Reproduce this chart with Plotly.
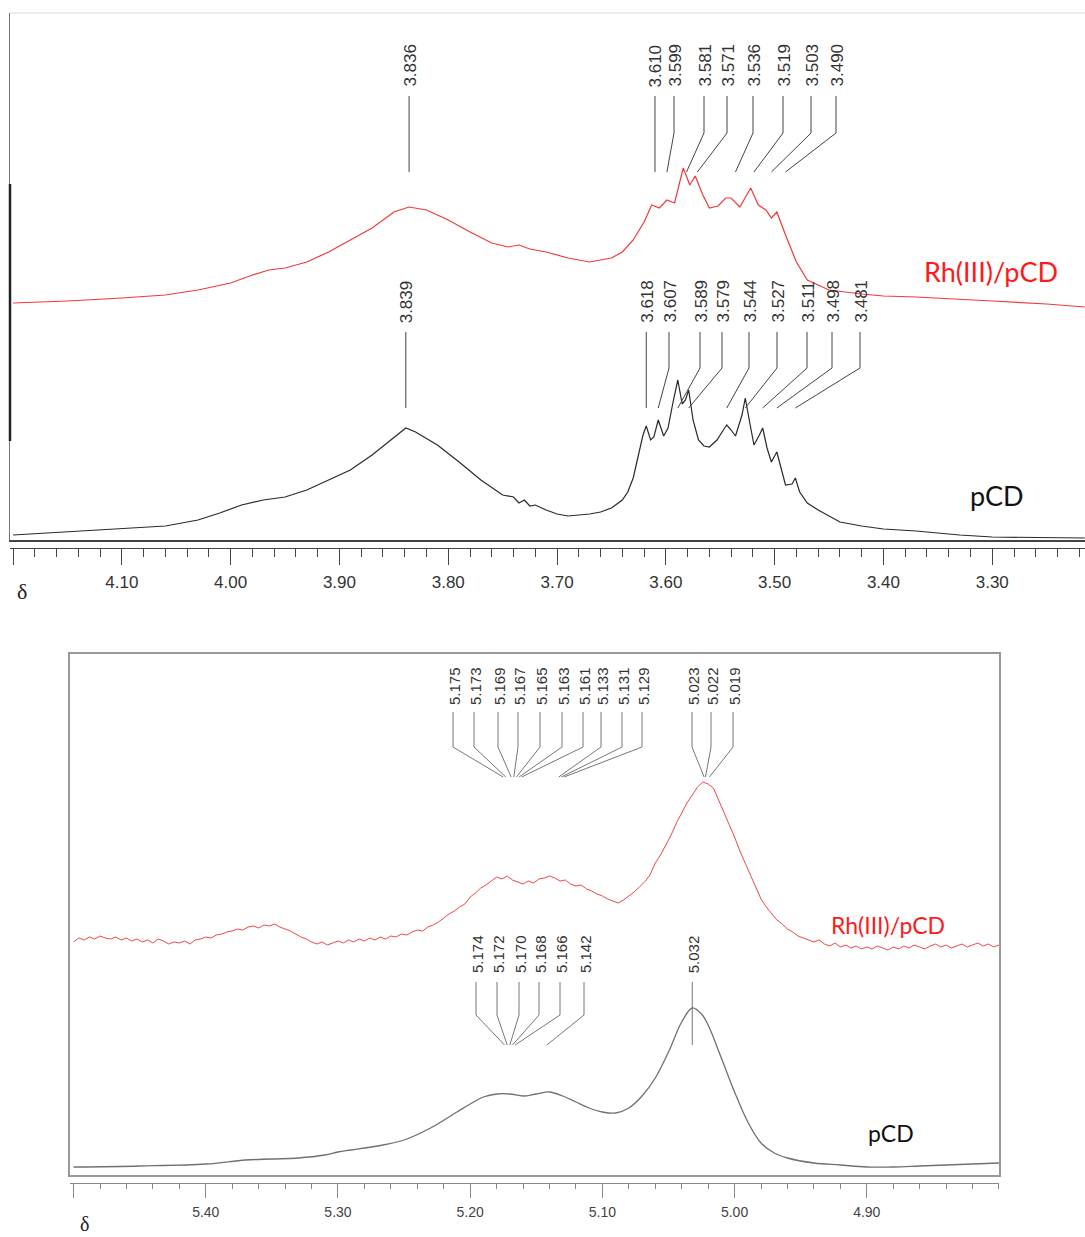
import plotly.graph_objects as go
import numpy as np

W, H = 1085, 1237

# ---------------- Top panel data (δ 3.2 – 4.2) ----------------
top_pcd_ppm = [4.200, 4.150, 4.100, 4.060, 4.030, 4.010, 3.990, 3.970, 3.950, 3.930,
               3.910, 3.890, 3.870, 3.850, 3.839, 3.830, 3.810, 3.790, 3.770, 3.750,
               3.740, 3.735, 3.730, 3.725, 3.720, 3.710, 3.700, 3.690, 3.680, 3.670,
               3.660, 3.650, 3.640, 3.635, 3.630, 3.625, 3.621, 3.618, 3.614, 3.611,
               3.607, 3.602, 3.598, 3.593, 3.589, 3.585, 3.582, 3.579, 3.575, 3.570,
               3.565, 3.560, 3.553, 3.546, 3.544, 3.540, 3.536, 3.530, 3.527, 3.523,
               3.519, 3.514, 3.511, 3.507, 3.503, 3.498, 3.494, 3.490, 3.484, 3.481,
               3.477, 3.470, 3.460, 3.440, 3.420, 3.400, 3.370, 3.350, 3.345, 3.330,
               3.300, 3.250, 3.215]
top_pcd_int = [5, 8, 11, 14, 20, 27, 35, 40, 43, 50,
               60, 70, 85, 102, 112, 108, 95, 78, 60, 45,
               43, 37, 40, 34, 35, 30, 26, 24, 25, 26,
               28, 32, 40, 48, 62, 85, 105, 114, 100, 103,
               120, 104, 112, 140, 160, 136, 140, 150, 120, 100,
               94, 93, 100, 112, 115, 110, 104, 125, 142, 118,
               95, 105, 112, 92, 78, 88, 70, 55, 56, 62,
               48, 37, 30, 18, 14, 11, 9, 7, 6, 5,
               3, 2, 2]

top_rh_ppm = [4.200, 4.150, 4.100, 4.060, 4.030, 4.000, 3.980, 3.965, 3.950, 3.930,
              3.910, 3.890, 3.870, 3.850, 3.836, 3.820, 3.800, 3.780, 3.760, 3.745,
              3.735, 3.725, 3.710, 3.690, 3.670, 3.650, 3.640, 3.630, 3.620, 3.613,
              3.606, 3.599, 3.592, 3.584, 3.578, 3.573, 3.566, 3.560, 3.552, 3.545,
              3.540, 3.532, 3.522, 3.515, 3.508, 3.503, 3.498, 3.490, 3.480, 3.470,
              3.450, 3.420, 3.400, 3.370, 3.350, 3.300, 3.250, 3.215]
top_rh_int = [237, 239, 242, 245, 250, 257, 265, 270, 272, 278,
              288, 300, 312, 328, 333, 330, 320, 308, 297, 293,
              295, 291, 288, 282, 278, 282, 288, 300, 318, 335,
              332, 340, 337, 372, 355, 364, 345, 332, 334, 342,
              342, 333, 352, 335, 330, 322, 328, 305, 278, 260,
              250, 246, 244, 243, 242, 239, 236, 233]

top_rh_labels = [3.836, 3.610, 3.599, 3.581, 3.571, 3.536, 3.519, 3.503, 3.490]
top_pcd_labels = [3.839, 3.618, 3.607, 3.589, 3.579, 3.544, 3.527, 3.511, 3.498, 3.481]
top_ticks = [4.20, 4.10, 4.00, 3.90, 3.80, 3.70, 3.60, 3.50, 3.40, 3.30]
top_ticktext = ["", "4.10", "4.00", "3.90", "3.80", "3.70", "3.60", "3.50", "3.40", "3.30"]

# ---------------- Bottom panel data (δ 4.8 – 5.5) ----------------
bot_pcd_ppm = [5.50, 5.45, 5.40, 5.37, 5.35, 5.33, 5.31, 5.30, 5.29, 5.27,
               5.25, 5.23, 5.21, 5.20, 5.19, 5.18, 5.17, 5.16, 5.15, 5.14,
               5.13, 5.12, 5.11, 5.10, 5.09, 5.08, 5.07, 5.06, 5.05, 5.04,
               5.032, 5.025, 5.02, 5.01, 5.00, 4.99, 4.98, 4.97, 4.96, 4.94,
               4.92, 4.90, 4.88, 4.86, 4.84, 4.82, 4.80]
bot_pcd_int = [8, 9, 11, 15, 16, 17, 20, 23, 25, 29,
               35, 47, 63, 71, 78, 81, 81, 79, 81, 83,
               79, 73, 67, 63, 62, 67, 79, 97, 123, 153,
               167, 161, 150, 117, 83, 53, 32, 22, 17, 12,
               10, 8, 8, 9, 10, 11, 12]

# Rh(III)/pCD spectrum sampled every 0.004 ppm from 5.500 down to 4.800
bot_rh_first, bot_rh_step = 5.500, 0.004
bot_rh_int = [233, 237, 235, 238, 236, 239, 237, 236, 238, 235,
              237, 234, 236, 233, 235, 232, 236, 234, 231, 233,
              232, 234, 231, 235, 236, 238, 237, 240, 241, 243,
              244, 246, 245, 248, 249, 247, 250, 249, 251, 248,
              246, 244, 241, 238, 236, 233, 231, 233, 230, 232,
              234, 232, 235, 233, 236, 234, 237, 235, 238, 236,
              239, 238, 241, 240, 243, 245, 244, 248, 250, 253,
              257, 261, 264, 268, 271, 278, 282, 287, 290, 294,
              298, 296, 299, 295, 293, 291, 294, 292, 296, 297,
              299, 297, 294, 295, 291, 289, 290, 286, 284, 281,
              279, 276, 274, 272, 275, 279, 283, 288, 293, 300,
              312, 320, 330, 340, 352, 362, 372, 380, 388, 393,
              391, 387, 375, 362, 350, 338, 324, 312, 300, 289,
              276, 268, 262, 255, 251, 246, 243, 239, 237, 235,
              233, 235, 231, 229, 232, 228, 230, 227, 229, 226,
              228, 226, 229, 227, 225, 228, 226, 229, 227, 230,
              228, 226, 229, 231, 228, 230, 227, 229, 231, 228,
              230, 232, 229, 231, 228, 230]
bot_rh_ppm = [bot_rh_first - bot_rh_step * i for i in range(len(bot_rh_int))]

bot_rh_labels = [5.175, 5.173, 5.169, 5.167, 5.165, 5.163, 5.161, 5.133, 5.131, 5.129,
                 5.023, 5.022, 5.019]
bot_pcd_labels = [5.174, 5.172, 5.170, 5.168, 5.166, 5.142, 5.032]
bot_ticks = [5.50, 5.40, 5.30, 5.20, 5.10, 5.00, 4.90]
bot_ticktext = ["", "5.40", "5.30", "5.20", "5.10", "5.00", "4.90"]

# ---------------- geometry (pixels) ----------------
T_X0, T_PPM0, T_SCALE = 10, 4.2028, 1088.0      # top: px at left, ppm at left, px per ppm
T_TOP, T_BOT = 13, 540
B_X0, B_X1, B_PPM0, B_SCALE = 70, 999, 5.5027, 1322.0
B_TOP, B_BOT = 654, 1175

def t_px2ppm(px):
    return T_PPM0 - (px - T_X0) / T_SCALE

def b_px2ppm(px):
    return B_PPM0 - (px - B_X0) / B_SCALE

def ypap(py):
    return 1 - py / H

t_range = [T_PPM0, T_PPM0 - (W - T_X0) / T_SCALE]
b_range = [B_PPM0, B_PPM0 - (B_X1 - B_X0) / B_SCALE]

fig = go.Figure()

# spectra
fig.add_trace(go.Scatter(x=top_rh_ppm, y=top_rh_int, mode="lines", xaxis="x", yaxis="y",
                         line=dict(color="#f03a3a", width=1.2), showlegend=False))
fig.add_trace(go.Scatter(x=top_pcd_ppm, y=top_pcd_int, mode="lines", xaxis="x", yaxis="y",
                         line=dict(color="#2a2a2a", width=1.2), showlegend=False))
fig.add_trace(go.Scatter(x=bot_rh_ppm, y=bot_rh_int, mode="lines", xaxis="x2", yaxis="y2",
                         line=dict(color="#f04848", width=1), showlegend=False))
fig.add_trace(go.Scatter(x=bot_pcd_ppm, y=bot_pcd_int, mode="lines", xaxis="x2", yaxis="y2",
                         line=dict(color="#707070", width=1.3), line_shape="spline",
                         showlegend=False))
# invisible anchors so that the two ruler axes get drawn
fig.add_trace(go.Scatter(x=[t_range[0]], y=[0], xaxis="x3", yaxis="y", mode="markers",
                         marker=dict(opacity=0), hoverinfo="skip", showlegend=False))
fig.add_trace(go.Scatter(x=[b_range[0]], y=[0], xaxis="x4", yaxis="y2", mode="markers",
                         marker=dict(opacity=0), hoverinfo="skip", showlegend=False))

# peak-label connectors
def connectors(labels, slots, conv, y_top, y_mid, y_end, xa, ya, color):
    xs, ys = [], []
    for v, s in zip(labels, slots):
        sx = v if s is None else conv(s)
        xs += [sx, sx, v, None]
        ys += [y_top, y_mid, y_end, None]
    fig.add_trace(go.Scatter(x=xs, y=ys, mode="lines", xaxis=xa, yaxis=ya,
                             line=dict(color=color, width=1), showlegend=False,
                             hoverinfo="skip"))
    return [v if s is None else conv(s) for v, s in zip(labels, slots)]

tr_slots = [None, None, 674, 704, 727, 753, 783, 811, 836]
tp_slots = [None, None, 669, 700, 722, 749, 777, 807, 832, 860]
br_slots = [453, 474, 498, 518, 540, 562, 583, 601, 622, 642, 692, 711, 733]
bp_slots = [476, 497, 519, 539, 560, 584, None]

tr_x = connectors(top_rh_labels, tr_slots, t_px2ppm, T_BOT - 96, T_BOT - 133, T_BOT - 172, "x", "y", "#444")
tp_x = connectors(top_pcd_labels, tp_slots, t_px2ppm, T_BOT - 332, T_BOT - 368, T_BOT - 408, "x", "y", "#444")
br_x = connectors(bot_rh_labels, br_slots, b_px2ppm, B_BOT - 712, B_BOT - 747, B_BOT - 777, "x2", "y2", "#777")
bp_x = connectors(bot_pcd_labels, bp_slots, b_px2ppm, B_BOT - 982, B_BOT - 1015, B_BOT - 1045, "x2", "y2", "#777")

annos = []
def label_texts(labels, xs, y, xa, ya, size):
    for v, x in zip(labels, xs):
        annos.append(dict(x=x, y=y, xref=xa, yref=ya, text=f"{v:.3f}", textangle=-90,
                          showarrow=False, xanchor="center", yanchor="bottom", xshift=1,
                          font=dict(family="Liberation Sans, Arial", size=size, color="#333")))

label_texts(top_rh_labels, tr_x, T_BOT - 89, "x", "y", 17)
label_texts(top_pcd_labels, tp_x, T_BOT - 325, "x", "y", 17)
label_texts(bot_rh_labels, br_x, B_BOT - 707, "x2", "y2", 15)
label_texts(bot_pcd_labels, bp_x, B_BOT - 975, "x2", "y2", 15)

# series names and δ symbols
annos += [
    dict(x=991 / W, y=ypap(272), xref="paper", yref="paper", text="Rh(III)/pCD", showarrow=False,
         font=dict(family="Lato", size=27, color="#ff1a1a"), xanchor="center", yanchor="middle"),
    dict(x=997 / W, y=ypap(495), xref="paper", yref="paper", text="pCD", showarrow=False,
         font=dict(family="Lato", size=27, color="#111"), xanchor="center", yanchor="middle"),
    dict(x=888 / W, y=ypap(925), xref="paper", yref="paper", text="Rh(III)/pCD", showarrow=False,
         font=dict(family="Lato", size=23, color="#ff1a1a"), xanchor="center", yanchor="middle"),
    dict(x=891 / W, y=ypap(1133), xref="paper", yref="paper", text="pCD", showarrow=False,
         font=dict(family="Lato", size=23, color="#111"), xanchor="center", yanchor="middle"),
    dict(x=22 / W, y=ypap(591), xref="paper", yref="paper", text="δ", showarrow=False,
         font=dict(family="Liberation Serif, Times New Roman", size=22, color="#222"),
         xanchor="center", yanchor="middle"),
    dict(x=84 / W, y=0, xref="paper", yref="paper", text="δ", showarrow=False,
         font=dict(family="Liberation Serif, Times New Roman", size=20, color="#222"),
         xanchor="center", yanchor="bottom"),
]

shapes = [
    dict(type="line", xref="paper", yref="paper", x0=T_X0 / W, x1=1, y0=ypap(T_TOP), y1=ypap(T_TOP),
         line=dict(color="#dcdcdc", width=1)),
    dict(type="line", xref="paper", yref="paper", x0=T_X0 / W, x1=T_X0 / W, y0=ypap(184), y1=ypap(441),
         line=dict(color="#222", width=2.5)),
]

noax = dict(showgrid=False, zeroline=False, ticks="", showticklabels=False)

fig.update_layout(
    width=W, height=H, margin=dict(l=0, r=0, t=0, b=0),
    paper_bgcolor="white", plot_bgcolor="white", showlegend=False,
    annotations=annos, shapes=shapes,
    xaxis=dict(domain=[T_X0 / W, 1], range=t_range, anchor="y", showline=True,
               linecolor="#444", linewidth=1.5, **noax),
    yaxis=dict(domain=[ypap(T_BOT), ypap(T_TOP)], range=[0, T_BOT - T_TOP], anchor="x",
               showline=True, linecolor="#777", linewidth=1, **noax),
    xaxis3=dict(overlaying="x", anchor="free", position=ypap(548), range=t_range, side="bottom",
                showline=True, linecolor="#444", linewidth=1.2, showgrid=False, zeroline=False,
                ticks="outside", ticklen=16, tickwidth=1, tickcolor="#444",
                tickmode="array", tickvals=top_ticks, ticktext=top_ticktext,
                ticklabelstandoff=2,
                tickfont=dict(family="Liberation Sans, Arial", size=17, color="#333"),
                minor=dict(ticks="outside", ticklen=8, tickwidth=1, tickcolor="#444",
                           tickmode="linear", tick0=0, dtick=0.02, showgrid=False)),
    xaxis2=dict(domain=[B_X0 / W, B_X1 / W], range=b_range, anchor="y2", showline=True,
                mirror=True, linecolor="#999", linewidth=1.5, **noax),
    yaxis2=dict(domain=[ypap(B_BOT), ypap(B_TOP)], range=[0, B_BOT - B_TOP], anchor="x2",
                showline=True, mirror=True, linecolor="#999", linewidth=1.5, **noax),
    xaxis4=dict(overlaying="x2", anchor="free", position=ypap(1183), range=b_range, side="bottom",
                showline=True, linecolor="#888", linewidth=1.2, showgrid=False, zeroline=False,
                ticks="outside", ticklen=14, tickwidth=1, tickcolor="#888",
                tickmode="array", tickvals=bot_ticks, ticktext=bot_ticktext,
                ticklabelstandoff=2,
                tickfont=dict(family="Liberation Sans, Arial", size=14, color="#444"),
                minor=dict(ticks="outside", ticklen=5, tickwidth=1, tickcolor="#888",
                           tickmode="linear", tick0=0, dtick=0.02, showgrid=False)),
)

fig.write_html("out.html")
